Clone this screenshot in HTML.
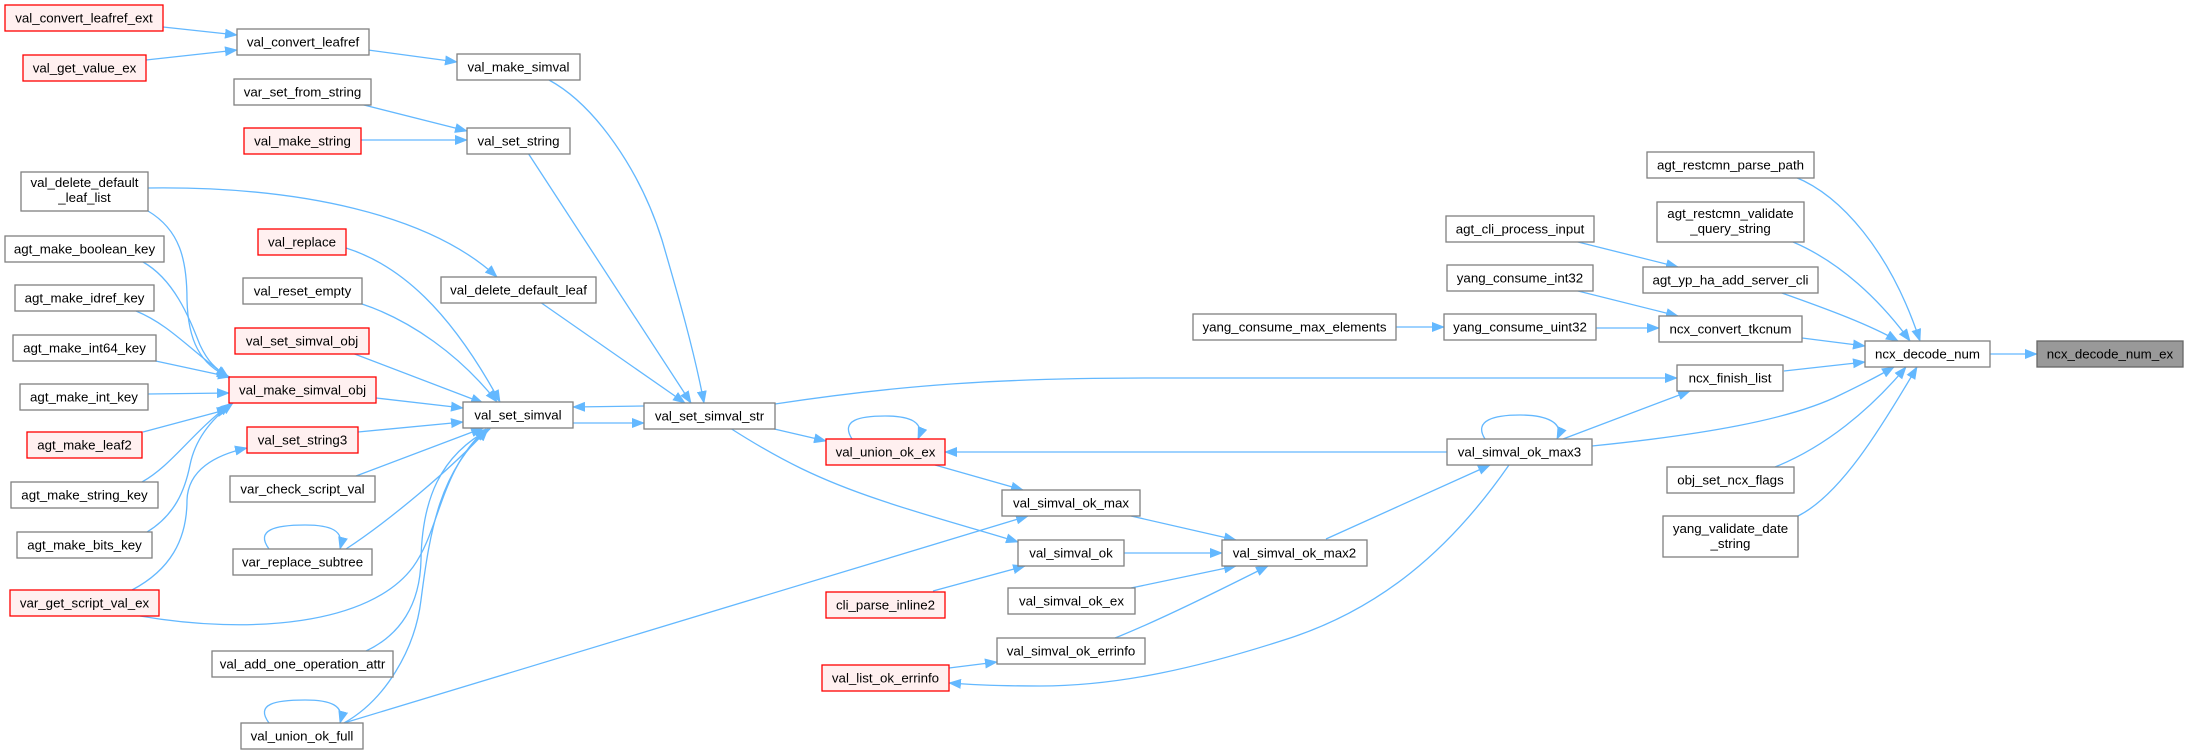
<!DOCTYPE html>
<html><head><meta charset="utf-8"><style>
html,body{margin:0;padding:0;background:#fff;}
svg{display:block;}
text{font-family:"Liberation Sans",Arial,sans-serif;font-size:13.3px;fill:#000;text-anchor:middle;}
.n{fill:#fff;stroke:#808080;stroke-width:1.3;}
.r{fill:#fff0f0;stroke:#ff0000;stroke-width:1.3;}
.g{fill:#999;stroke:#666;stroke-width:1.3;}
.e{fill:none;stroke:#63b8ff;stroke-width:1.3;marker-end:url(#a);}
</style></head><body>
<svg width="2188" height="755" viewBox="0 0 2188 755" xmlns="http://www.w3.org/2000/svg">
<defs><marker id="a" markerWidth="13" markerHeight="10" refX="12" refY="5" orient="auto" markerUnits="userSpaceOnUse"><path d="M0,0 L13,5 L0,10 z" fill="#63b8ff"/></marker></defs>
<rect width="2188" height="755" fill="#fff"/>
<!-- edges -->
<path class="e" d="M163,27 L237,35"/>
<path class="e" d="M146,60 L237,50"/>
<path class="e" d="M368,50 L457,62"/>
<path class="e" d="M360,104 L467,131"/>
<path class="e" d="M361,140 L467,140"/>
<path class="e" d="M549,80 C595,105 640,170 662,240 C678,295 694,350 704,403"/>
<path class="e" d="M528,153 L691,403"/>
<path class="e" d="M540,302 L685,403"/>
<path class="e" d="M148,188 C300,186 430,215 497,277"/>
<path class="e" d="M148,211 C180,230 187,260 187,300 C188,340 200,365 229,377"/>
<path class="e" d="M143,262 C175,280 190,320 200,345 C208,362 215,368 228,377"/>
<path class="e" d="M136,311 C170,325 190,350 229,378"/>
<path class="e" d="M151,360 L230,377"/>
<path class="e" d="M148,394 L229,393"/>
<path class="e" d="M143,432 L229,409"/>
<path class="e" d="M142,482 C172,465 190,435 230,404"/>
<path class="e" d="M147,532 C175,515 185,490 190,465 C195,440 210,420 233,403"/>
<path class="e" d="M132,590 C170,570 187,540 187,500 C188,470 215,455 247,448"/>
<path class="e" d="M376,398 L463,408"/>
<path class="e" d="M346,248 C400,265 450,310 500,402"/>
<path class="e" d="M362,304 C410,320 460,355 497,402"/>
<path class="e" d="M352,353 L483,403"/>
<path class="e" d="M358,432 L463,422"/>
<path class="e" d="M356,476 L483,428"/>
<path class="e" d="M346,549 C390,520 450,470 488,429"/>
<path class="e" d="M366,651 C400,635 420,605 421,560 C422,500 440,455 490,429"/>
<path class="e" d="M344,723 C385,700 415,650 421,600 C430,530 440,470 488,429"/>
<path class="e" d="M140,616 C250,635 370,625 413,567 C440,530 440,470 486,429"/>
<path class="e" d="M269,549 C255,530 275,525 305,525 C330,525 345,530 340,549"/>
<path class="e" d="M269,723 C255,704 275,700 305,700 C330,700 345,705 340,723"/>
<path class="e" d="M852,439 C840,420 860,416 885,416 C910,416 925,422 918,439"/>
<path class="e" d="M1485,439 C1473,420 1495,415 1520,415 C1545,415 1565,422 1557,439"/>
<path class="e" d="M644,406 L573,407"/>
<path class="e" d="M573,423 L644,423"/>
<path class="e" d="M775,404 C900,385 1000,378 1150,378 L1677,378"/>
<path class="e" d="M770,428 L826,441"/>
<path class="e" d="M730,428 C780,460 820,480 880,500 C930,517 980,530 1018,542"/>
<path class="e" d="M935,465 L1023,490"/>
<path class="e" d="M344,723 L1028,516"/>
<path class="e" d="M1131,516 L1236,540"/>
<path class="e" d="M1124,553 L1222,553"/>
<path class="e" d="M1131,588 L1236,566"/>
<path class="e" d="M1115,638 C1160,620 1220,590 1268,566"/>
<path class="e" d="M933,591 L1025,566"/>
<path class="e" d="M949,668 L997,662"/>
<path class="e" d="M1509,465 C1450,550 1380,610 1284,640 C1200,667 1120,686 1040,686 C1010,686 975,685 949,683"/>
<path class="e" d="M1326,539 L1490,465"/>
<path class="e" d="M1447,452 L945,452"/>
<path class="e" d="M1563,439 L1690,391"/>
<path class="e" d="M1592,446 C1700,435 1790,420 1840,395 C1865,383 1880,375 1894,367"/>
<path class="e" d="M1775,467 C1825,447 1870,410 1906,367"/>
<path class="e" d="M1798,516 C1840,495 1880,430 1917,367"/>
<path class="e" d="M1795,177 C1840,195 1890,250 1920,341"/>
<path class="e" d="M1793,242 C1840,262 1880,300 1910,341"/>
<path class="e" d="M1779,292 C1830,310 1870,325 1898,341"/>
<path class="e" d="M1802,338 L1865,346"/>
<path class="e" d="M1784,371 L1865,362"/>
<path class="e" d="M1990,354 L2037,354"/>
<path class="e" d="M1574,241 L1678,267"/>
<path class="e" d="M1574,290 L1678,316"/>
<path class="e" d="M1596,328 L1659,328"/>
<path class="e" d="M1396,327 L1444,327"/>
<!-- nodes -->
<rect class="r" x="5" y="5" width="158" height="26"/><text x="84" y="22.5">val_convert_leafref_ext</text>
<rect class="n" x="237" y="29" width="132" height="26"/><text x="303" y="46.5">val_convert_leafref</text>
<rect class="r" x="23" y="55" width="123" height="26"/><text x="84.5" y="72.5">val_get_value_ex</text>
<rect class="n" x="457" y="54" width="123" height="26"/><text x="518.5" y="71.5">val_make_simval</text>
<rect class="n" x="234" y="79" width="137" height="26"/><text x="302.5" y="96.5">var_set_from_string</text>
<rect class="r" x="244" y="128" width="117" height="26"/><text x="302.5" y="145.5">val_make_string</text>
<rect class="n" x="467" y="128" width="103" height="26"/><text x="518.5" y="145.5">val_set_string</text>
<rect class="n" x="21" y="172" width="127" height="39"/><text x="84.5" y="187">val_delete_default</text><text x="84.5" y="202">_leaf_list</text>
<rect class="r" x="258" y="229" width="88" height="26"/><text x="302" y="246.5">val_replace</text>
<rect class="n" x="5" y="236" width="159" height="26"/><text x="84.5" y="253.5">agt_make_boolean_key</text>
<rect class="n" x="441" y="277" width="155" height="26"/><text x="518.5" y="294.5">val_delete_default_leaf</text>
<rect class="n" x="243" y="278" width="119" height="26"/><text x="302.5" y="295.5">val_reset_empty</text>
<rect class="n" x="15" y="285" width="139" height="26"/><text x="84.5" y="302.5">agt_make_idref_key</text>
<rect class="r" x="235" y="328" width="134" height="26"/><text x="302" y="345.5">val_set_simval_obj</text>
<rect class="n" x="13" y="335" width="143" height="26"/><text x="84.5" y="352.5">agt_make_int64_key</text>
<rect class="r" x="229" y="377" width="147" height="26"/><text x="302.5" y="394.5">val_make_simval_obj</text>
<rect class="n" x="20" y="384" width="128" height="26"/><text x="84" y="401.5">agt_make_int_key</text>
<rect class="n" x="463" y="402" width="110" height="26"/><text x="518" y="419.5">val_set_simval</text>
<rect class="n" x="644" y="403" width="131" height="26"/><text x="709.5" y="420.5">val_set_simval_str</text>
<rect class="r" x="247" y="427" width="111" height="26"/><text x="302.5" y="444.5">val_set_string3</text>
<rect class="r" x="27" y="432" width="115" height="26"/><text x="84.5" y="449.5">agt_make_leaf2</text>
<rect class="r" x="826" y="439" width="119" height="26"/><text x="885.5" y="456.5">val_union_ok_ex</text>
<rect class="n" x="230" y="476" width="145" height="26"/><text x="302.5" y="493.5">var_check_script_val</text>
<rect class="n" x="11" y="482" width="147" height="26"/><text x="84.5" y="499.5">agt_make_string_key</text>
<rect class="n" x="1002" y="490" width="138" height="26"/><text x="1071" y="507.5">val_simval_ok_max</text>
<rect class="n" x="17" y="532" width="135" height="26"/><text x="84.5" y="549.5">agt_make_bits_key</text>
<rect class="n" x="1018" y="540" width="106" height="26"/><text x="1071" y="557.5">val_simval_ok</text>
<rect class="n" x="233" y="549" width="139" height="26"/><text x="302.5" y="566.5">var_replace_subtree</text>
<rect class="n" x="1222" y="540" width="145" height="26"/><text x="1294.5" y="557.5">val_simval_ok_max2</text>
<rect class="r" x="10" y="590" width="149" height="26"/><text x="84.5" y="607.5">var_get_script_val_ex</text>
<rect class="r" x="826" y="592" width="119" height="26"/><text x="885.5" y="609.5">cli_parse_inline2</text>
<rect class="n" x="1008" y="588" width="127" height="26"/><text x="1071.5" y="605.5">val_simval_ok_ex</text>
<rect class="n" x="997" y="638" width="148" height="26"/><text x="1071" y="655.5">val_simval_ok_errinfo</text>
<rect class="n" x="212" y="651" width="181" height="26"/><text x="302.5" y="668.5">val_add_one_operation_attr</text>
<rect class="r" x="822" y="665" width="127" height="26"/><text x="885.5" y="682.5">val_list_ok_errinfo</text>
<rect class="n" x="241" y="723" width="122" height="26"/><text x="302" y="740.5">val_union_ok_full</text>
<rect class="n" x="1446" y="216" width="148" height="26"/><text x="1520" y="233.5">agt_cli_process_input</text>
<rect class="n" x="1447" y="265" width="146" height="26"/><text x="1520" y="282.5">yang_consume_int32</text>
<rect class="n" x="1193" y="314" width="203" height="26"/><text x="1294.5" y="331.5">yang_consume_max_elements</text>
<rect class="n" x="1444" y="314" width="152" height="26"/><text x="1520" y="331.5">yang_consume_uint32</text>
<rect class="n" x="1447" y="439" width="145" height="26"/><text x="1519.5" y="456.5">val_simval_ok_max3</text>
<rect class="n" x="1647" y="152" width="167" height="26"/><text x="1730.5" y="169.5">agt_restcmn_parse_path</text>
<rect class="n" x="1657" y="202" width="147" height="40"/><text x="1730.5" y="218">agt_restcmn_validate</text><text x="1730.5" y="233">_query_string</text>
<rect class="n" x="1643" y="267" width="175" height="26"/><text x="1730.5" y="284.5">agt_yp_ha_add_server_cli</text>
<rect class="n" x="1659" y="316" width="143" height="26"/><text x="1730.5" y="333.5">ncx_convert_tkcnum</text>
<rect class="n" x="1677" y="365" width="106" height="26"/><text x="1730" y="382.5">ncx_finish_list</text>
<rect class="n" x="1667" y="467" width="127" height="26"/><text x="1730.5" y="484.5">obj_set_ncx_flags</text>
<rect class="n" x="1663" y="516" width="135" height="41"/><text x="1730.5" y="533">yang_validate_date</text><text x="1730.5" y="548">_string</text>
<rect class="n" x="1865" y="341" width="125" height="26"/><text x="1927.5" y="358.5">ncx_decode_num</text>
<rect class="g" x="2037" y="341" width="146" height="26"/><text x="2110" y="358.5">ncx_decode_num_ex</text>
</svg>
</body></html>
